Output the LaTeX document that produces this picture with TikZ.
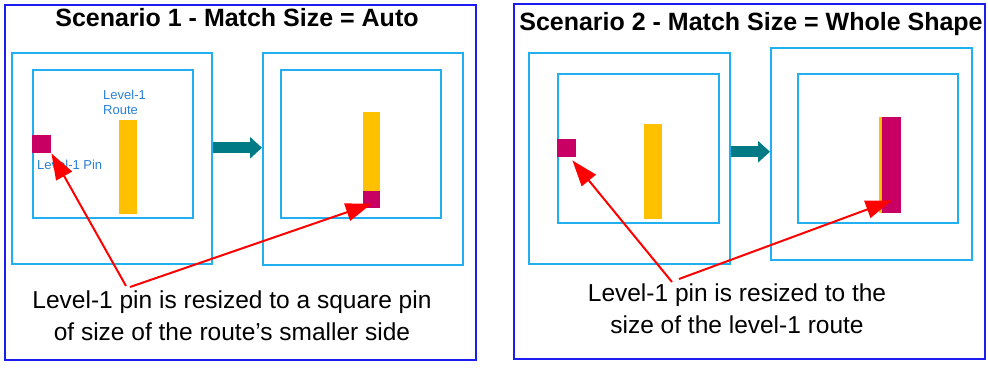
\documentclass[tikz,border=0pt]{standalone}
\usepackage{fontspec}
\setmainfont{Liberation Sans}
\usepackage{xcolor}
\definecolor{panelblue}{HTML}{1C1CF0}
\definecolor{cellcyan}{HTML}{20B0F0}
\definecolor{flowteal}{HTML}{007B86}
\definecolor{pinmagenta}{HTML}{C80064}
\definecolor{routeyellow}{HTML}{FFC000}
\definecolor{labelblue}{HTML}{2A80D5}
\usepackage{tikz}
\usetikzlibrary{
  positioning,
  arrows.meta
}

\begin{document}
\begin{tikzpicture}[
  x=1pt, y=-1pt,
  panel/.style={
    rectangle, draw=panelblue, line width=1.8pt, inner sep=0pt, anchor=north west
  },
  cell/.style={
    rectangle, draw=cellcyan, line width=1.5pt, inner sep=0pt, anchor=north west
  },
  pinbox/.style={rectangle, fill=pinmagenta, inner sep=0pt, anchor=north west},
  routebox/.style={rectangle, fill=routeyellow, inner sep=0pt, anchor=north west},
  title/.style={font=\fontsize{25}{30}\selectfont\bfseries, anchor=base},
  tag/.style={
    font=\fontsize{13}{15}\selectfont, text=labelblue, align=left,
    inner sep=0pt, anchor=base west
  },
  note/.style={
    font=\fontsize{24.5}{32}\selectfont, align=center, inner sep=0pt, anchor=base
  },
  flow/.style={
    -{Triangle[length=12pt, width=21pt]}, line width=11pt, flowteal
  },
  callout/.style={
    -{Triangle[length=26pt, width=18pt]}, line width=2pt, red
  }
]
\useasboundingbox (0,0) rectangle (988,368);

% Scenario 1
\node[panel, minimum width=471pt, minimum height=355pt] (auto) at (4,4) {};
\node[title] (autotitle) at (237,26) {Scenario 1 - Match Size = Auto};

\node[cell, minimum width=200pt, minimum height=211pt] (autoouter1) at (11,52) {};
\node[cell, minimum width=160pt, minimum height=148pt] (autoinner1) at (32,69) {};
\node[routebox, minimum width=18pt, minimum height=94pt] (autoroute1) at (119,120) {};
\node[pinbox, minimum width=19pt, minimum height=18pt] (autopin1) at (32,135) {};
\node[tag] (routetag) at (103,114) {Level-1\\Route};
\node[tag] (pintag) at (37,169) {Level-1 Pin};

\node[cell, minimum width=200pt, minimum height=212pt] (autoouter2) at (262,52) {};
\node[cell, minimum width=160pt, minimum height=148pt] (autoinner2) at (280,69) {};
\node[routebox, minimum width=17pt, minimum height=96pt] (autoroute2) at (363,112) {};
\node[pinbox, minimum width=17pt, minimum height=17pt] (autopin2) at (363,191) {};

\draw[flow] ([yshift=10.5pt]autoouter1.east) -- ([yshift=10.5pt]autoouter1.east -| autoouter2.west);

\node[note] (autonote) at (232,340)
  {Level-1 pin is resized to a square pin\\of size of the route’s smaller side};
\coordinate (autofrom1) at (126,286);
\coordinate (autofrom2) at (130,287);
\draw[callout] (autofrom1) -- (autopin1.south east);
\draw[callout] (autofrom2) -- ([yshift=-4pt]autopin2.center);

% Scenario 2
\node[panel, minimum width=471pt, minimum height=355pt] (whole) at (513,3) {};
\node[title] (wholetitle) at (751,30) {Scenario 2 - Match Size = Whole Shape};

\node[cell, minimum width=201pt, minimum height=211pt] (wholeouter1) at (528,52) {};
\node[cell, minimum width=161pt, minimum height=149pt] (wholeinner1) at (557,73) {};
\node[routebox, minimum width=18pt, minimum height=95pt] (wholeroute1) at (644,124) {};
\node[pinbox, minimum width=19pt, minimum height=18pt] (wholepin1) at (557,139) {};

\node[cell, minimum width=201pt, minimum height=212pt] (wholeouter2) at (770,47) {};
\node[cell, minimum width=160pt, minimum height=149pt] (wholeinner2) at (797,73) {};
\node[routebox, minimum width=18pt, minimum height=96pt] (wholeroute2) at (879,117) {};
\node[pinbox, minimum width=19pt, minimum height=96pt] (wholepin2) at (882,117) {};

\draw[flow] ([yshift=6.5pt]wholeouter1.east) -- ([yshift=6.5pt]wholeouter1.east -| wholeouter2.west);

\node[note] (wholenote) at (737,333)
  {Level-1 pin is resized to the\\size of the level-1 route};
\coordinate (wholefrom1) at (672,282);
\coordinate (wholefrom2) at (679,279);
\draw[callout] (wholefrom1) -- ([xshift=-4pt, yshift=-3pt]wholepin1.south east);
\draw[callout] (wholefrom2) -- ([yshift=13pt]wholepin2.south);

\end{tikzpicture}
\end{document}
